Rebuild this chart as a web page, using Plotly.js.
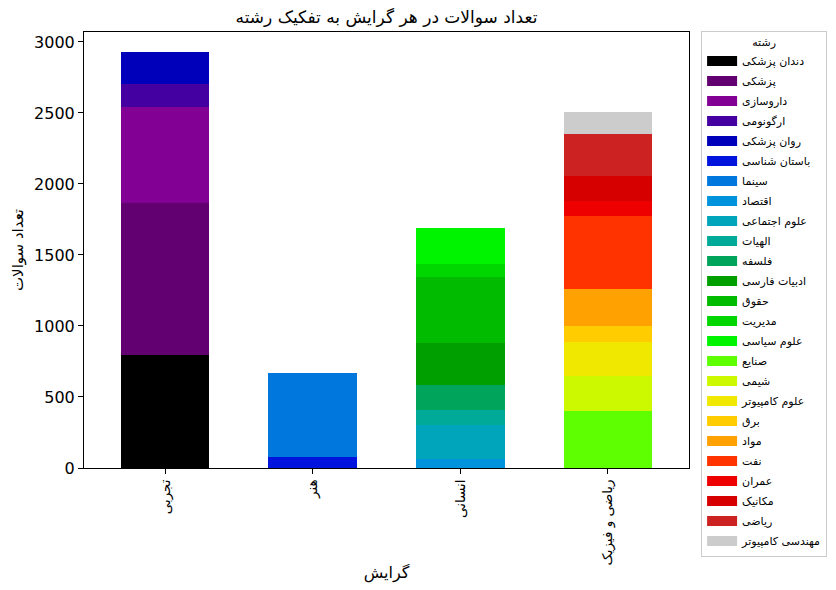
<!DOCTYPE html>
<html>
<head>
<meta charset="utf-8">
<script src="https://cdn.plot.ly/plotly-3.0.1.min.js"></script>
<style>html,body{margin:0;padding:0;background:#fff;}#chart{width:836px;height:590px;}</style>
</head>
<body>
<div id="chart"></div>
<script>
// Categories (x axis)
const categories = ['تجربی', 'هنر', 'انسانی', 'ریاضی و فیزیک'];

// Fields (legend order), the category each belongs to, and their counts
const fieldNames = [
  'دندان پزشکی', 'پزشکی', 'داروسازی', 'ارگونومی', 'روان پزشکی',
  'باستان شناسی', 'سینما',
  'اقتصاد', 'علوم اجتماعی', 'الهیات', 'فلسفه', 'ادبیات فارسی', 'حقوق', 'مدیریت', 'علوم سیاسی',
  'صنایع', 'شیمی', 'علوم کامپیوتر', 'برق', 'مواد', 'نفت', 'عمران', 'مکانیک', 'ریاضی', 'مهندسی کامپیوتر'
];
const fieldGroup = [
  'تجربی', 'تجربی', 'تجربی', 'تجربی', 'تجربی',
  'هنر', 'هنر',
  'انسانی', 'انسانی', 'انسانی', 'انسانی', 'انسانی', 'انسانی', 'انسانی', 'انسانی',
  'ریاضی و فیزیک', 'ریاضی و فیزیک', 'ریاضی و فیزیک', 'ریاضی و فیزیک', 'ریاضی و فیزیک',
  'ریاضی و فیزیک', 'ریاضی و فیزیک', 'ریاضی و فیزیک', 'ریاضی و فیزیک', 'ریاضی و فیزیک'
];
const fieldCounts = [
  798, 1068, 676, 162, 226,
  77, 592,
  66, 234, 108, 176, 296, 465, 92, 253,
  401, 247, 239, 113, 260, 515, 105, 176, 296, 155
];
const fieldColors = [
  '#000000', '#630071', '#820093', '#4400a1', '#0000bb',
  '#0014dd', '#0077dd',
  '#0093dd', '#00a4bb', '#00aa99', '#00a45b', '#009f00', '#00bb00', '#00d700', '#00f400',
  '#5eff00', '#ccf900', '#f1e800', '#ffcc00', '#ffa100', '#ff3300', '#ee0000', '#d70000', '#cc2222', '#cccccc'
];

// Stacked bars (drawn through the axes)
const barTraces = fieldNames.map((name, i) => ({
  type: 'bar',
  name: name,
  x: categories,
  y: categories.map(c => (c === fieldGroup[i] ? fieldCounts[i] : null)),
  marker: {color: fieldColors[i], line: {width: 0}},
  legendgroup: 'g' + i,
  showlegend: false,
  hoverinfo: 'x+y+name'
}));

// Legend swatches: wide rectangles like the reference's patches
const legendTraces = fieldNames.map((name, i) => ({
  type: 'scatter',
  mode: 'lines',
  name: name,
  x: [null],
  y: [null],
  line: {color: fieldColors[i], width: 10},
  legendgroup: 'g' + i,
  showlegend: true,
  hoverinfo: 'skip'
}));

const font = 'DejaVu Sans, sans-serif';
const layout = {
  width: 836, height: 590,
  margin: {l: 84, r: 147, t: 32, b: 122, pad: 0, autoexpand: false},
  paper_bgcolor: '#ffffff', plot_bgcolor: '#ffffff',
  barmode: 'stack',
  bargap: 0.4,
  font: {family: font, color: '#000000'},
  title: {text: 'تعداد سوالات در هر گرایش به تفکیک رشته', font: {family: font, size: 17, color: '#000'},
          x: 0.5, xref: 'paper', xanchor: 'center', y: 1, yref: 'container', yanchor: 'top', pad: {t: 11}},
  xaxis: {
    type: 'category', range: [-0.55, 3.55],
    showline: true, linecolor: '#000', linewidth: 1, mirror: true,
    ticks: 'outside', ticklen: 5, tickcolor: '#000', tickwidth: 1,
    tickangle: -90, tickfont: {family: font, size: 13.5, color: '#000'},
    showgrid: false, zeroline: false,
    title: {text: 'گرایش', font: {family: font, size: 16, color: '#000'}, standoff: 2}
  },
  yaxis: {
    range: [0, 3070], tickvals: [0, 500, 1000, 1500, 2000, 2500, 3000],
    showline: true, linecolor: '#000', linewidth: 1, mirror: true,
    ticks: 'outside', ticklen: 5, tickcolor: '#000', tickwidth: 1,
    tickfont: {family: font, size: 16, color: '#000'},
    showgrid: false, zeroline: false,
    title: {text: 'تعداد سوالات', font: {family: font, size: 15, color: '#000'}, standoff: 6}
  },
  legend: {
    x: 1.02, xanchor: 'left', y: 1.002, yanchor: 'top',
    traceorder: 'grouped',
    maxheight: 570,
    bordercolor: '#cccccc', borderwidth: 1, bgcolor: '#ffffff',
    font: {family: font, size: 11, color: '#000'},
    title: {text: 'رشته', side: 'top center', font: {family: font, size: 11, color: '#000'}},
    tracegroupgap: 1, itemwidth: 30
  },
  showlegend: true
};

Plotly.newPlot('chart', barTraces.concat(legendTraces), layout, {displayModeBar: false, staticPlot: true});
</script>
</body>
</html>
